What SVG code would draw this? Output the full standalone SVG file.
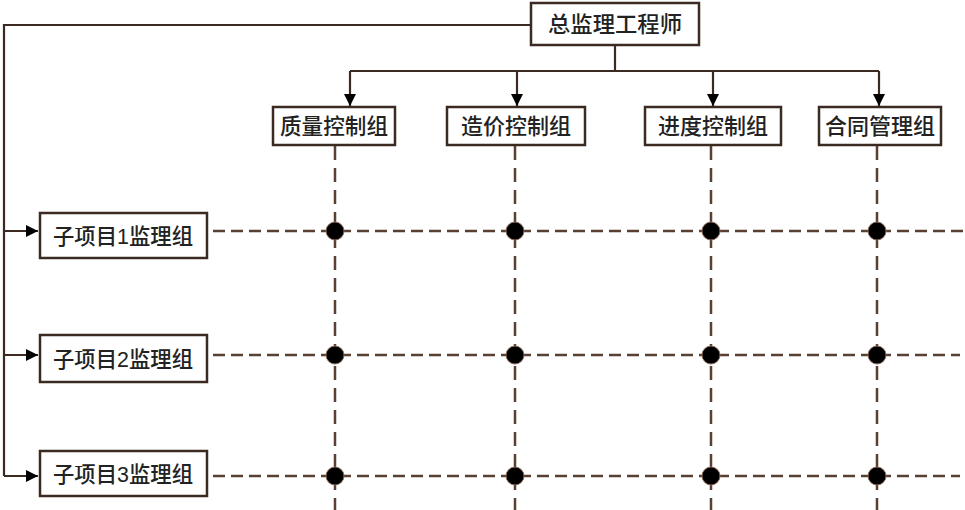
<svg xmlns="http://www.w3.org/2000/svg" width="965" height="510" viewBox="0 0 965 510">
<style>
.box{fill:#fff;stroke:#3a2a22;stroke-width:2.5}
.t{font-family:"Liberation Sans","Noto Sans CJK SC",sans-serif;font-size:22px;font-weight:500;fill:#222;text-anchor:middle;dominant-baseline:central}
.ln{fill:none;stroke:#3a2a22;stroke-width:2.2}
.dh{fill:none;stroke:#5a4032;stroke-width:2.5;stroke-dasharray:12 6}
.dv{fill:none;stroke:#5a4032;stroke-width:2.5;stroke-dasharray:14 8}
.dot{fill:#000;stroke:#8a6a58;stroke-width:1}
</style>
<defs>
<marker id="ah2" viewBox="0 0 10 10" refX="10" refY="5" markerWidth="14" markerHeight="12" orient="auto" markerUnits="userSpaceOnUse">
<path d="M0,0 L10,5 L0,10 z" fill="#000"/>
</marker>
</defs>
<g id="connectors">
<path class="ln" d="M531,25 H4 V476"/>
<path class="ln" d="M4,231 H38" marker-end="url(#ah2)"/>
<path class="ln" d="M4,355 H38" marker-end="url(#ah2)"/>
<path class="ln" d="M4,476 H38" marker-end="url(#ah2)"/>
<path class="ln" d="M615,45 V71 M350,71 H879"/>
<path class="ln" d="M350,71 V106" marker-end="url(#ah2)"/>
<path class="ln" d="M517,71 V106" marker-end="url(#ah2)"/>
<path class="ln" d="M713,71 V106" marker-end="url(#ah2)"/>
<path class="ln" d="M879,71 V106" marker-end="url(#ah2)"/>
<path class="dh" d="M213,231 H965"/>
<path class="dh" d="M213,355 H960"/>
<path class="dh" d="M213,476 H960"/>
<path class="dv" d="M335,146 V510"/>
<path class="dv" d="M515,146 V510"/>
<path class="dv" d="M711,146 V510"/>
<path class="dv" d="M877,146 V510"/>
<g>
<circle class="dot" cx="335" cy="231" r="9"/><circle class="dot" cx="515" cy="231" r="9"/><circle class="dot" cx="711" cy="231" r="9"/><circle class="dot" cx="877" cy="231" r="9"/>
<circle class="dot" cx="335" cy="355" r="9"/><circle class="dot" cx="515" cy="355" r="9"/><circle class="dot" cx="711" cy="355" r="9"/><circle class="dot" cx="877" cy="355" r="9"/>
<circle class="dot" cx="335" cy="476" r="9"/><circle class="dot" cx="515" cy="476" r="9"/><circle class="dot" cx="711" cy="476" r="9"/><circle class="dot" cx="877" cy="476" r="9"/>
</g>
</g>
<g id="chief"><rect class="box" x="531" y="3" width="168" height="42"/><text class="t" x="615" y="24" textLength="134" lengthAdjust="spacingAndGlyphs">总监理工程师</text></g>
<g id="quality"><rect class="box" x="273" y="107" width="122" height="38"/><text class="t" x="334" y="126" textLength="108" lengthAdjust="spacingAndGlyphs">质量控制组</text></g>
<g id="cost"><rect class="box" x="447" y="107" width="138" height="38"/><text class="t" x="516" y="126" textLength="110" lengthAdjust="spacingAndGlyphs">造价控制组</text></g>
<g id="progress"><rect class="box" x="645" y="107" width="136" height="38"/><text class="t" x="713" y="126" textLength="110" lengthAdjust="spacingAndGlyphs">进度控制组</text></g>
<g id="contract"><rect class="box" x="819" y="107" width="122" height="38"/><text class="t" x="880" y="126" textLength="110" lengthAdjust="spacingAndGlyphs">合同管理组</text></g>
<g id="sub1"><rect class="box" x="40" y="213" width="167" height="45"/><text class="t" x="123" y="236" textLength="140" lengthAdjust="spacingAndGlyphs">子项目1监理组</text></g>
<g id="sub2"><rect class="box" x="40" y="335" width="167" height="47"/><text class="t" x="123" y="359" textLength="140" lengthAdjust="spacingAndGlyphs">子项目2监理组</text></g>
<g id="sub3"><rect class="box" x="40" y="451" width="167" height="45"/><text class="t" x="123" y="474" textLength="140" lengthAdjust="spacingAndGlyphs">子项目3监理组</text></g>
</svg>
